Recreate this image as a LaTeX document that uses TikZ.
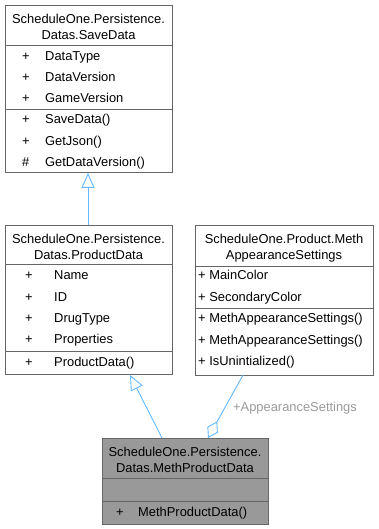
\documentclass[tikz,border=0pt]{standalone}
\usepackage{fontspec}
\setmainfont{Liberation Sans}
\usetikzlibrary{arrows.meta}
\definecolor{edgeblue}{HTML}{63B8FF}
\definecolor{boxline}{HTML}{666666}
\definecolor{labelgray}{HTML}{9A9A9A}
\definecolor{hilite}{HTML}{999999}
\begin{document}
\begin{tikzpicture}[x=1pt,y=-1pt,
  every node/.style={font=\fontsize{12.9}{16}\selectfont, inner sep=0pt, text height=1.1em, text depth=0.2em},
  classbox/.style={draw=boxline, line width=0.9pt, fill=white, anchor=north west, minimum width=#1, text height=, text depth=},
  member/.style={anchor=west},
  sep/.style={draw=boxline, line width=0.9pt},
  link/.style={draw=edgeblue, line width=0.9pt},
  inherit/.style={link, -{Triangle[open, length=15pt, width=13pt, fill=white]}},
  aggr/.style={link, -{Diamond[open, length=19pt, width=12pt, fill=white]}}
]
\useasboundingbox (0,0) rectangle (379,529);

% ---- SaveData ----
\node[classbox=167pt, minimum height=167pt] (sd) at (5,5) {};
\node (sdt1) at (88.5,19) {ScheduleOne.Persistence.};
\node (sdt2) at (88.5,35) {Datas.SaveData};
\draw[sep] (5,45) -- (172,45);
\draw[sep] (5,109) -- (172,109);
\foreach \y/\v/\t [count=\i] in {56/+/DataType, 77/+/DataVersion, 98/+/GameVersion,
                                 119/+/SaveData(), 141/+/GetJson(), 162/\#/GetDataVersion()} {
  \node[member] (sdv\i) at (22,\y) {\v};
  \node[member] (sdm\i) at (45,\y) {\t};
}

% ---- ProductData ----
\node[classbox=167pt, minimum height=149pt] (pd) at (5,225) {};
\node (pdt1) at (88.5,239) {ScheduleOne.Persistence.};
\node (pdt2) at (88.5,255) {Datas.ProductData};
\draw[sep] (5,264) -- (172,264);
\draw[sep] (5,351) -- (172,351);
\foreach \y/\t [count=\i] in {275/Name, 297/ID, 318/DrugType, 339/Properties, 362/ProductData()} {
  \node[member] (pdv\i) at (25,\y) {+};
  \node[member] (pdm\i) at (54,\y) {\t};
}

% ---- MethAppearanceSettings ----
\node[classbox=178pt, minimum height=150pt] (ma) at (195,225) {};
\node (mat1) at (284,239) {ScheduleOne.Product.Meth};
\node (mat2) at (284,255) {AppearanceSettings};
\draw[sep] (195,266) -- (373,266);
\draw[sep] (195,308) -- (373,308);
\foreach \y/\t [count=\i] in {275/MainColor, 297/SecondaryColor, 318/MethAppearanceSettings(),
                              340/MethAppearanceSettings(), 361/IsUnintialized()} {
  \node[member] (mam\i) at (198,\y) {+ \t};
}

% ---- MethProductData (highlighted) ----
\node[classbox=166pt, minimum height=86pt, fill=hilite] (mp) at (102,438) {};
\node (mpt1) at (185,452) {ScheduleOne.Persistence.};
\node (mpt2) at (185,468) {Datas.MethProductData};
\draw[sep] (102,478) -- (268,478);
\draw[sep] (102,501) -- (268,501);
\node[member] (mpv1) at (116,512) {+};
\node[member] (mpm1) at (138,512) {MethProductData()};

% ---- relations ----
\draw[inherit] (pd.north -| 88,0) -- (sd.south -| 88,0);
\coordinate (mpa) at (162,438);
\coordinate (pdb) at (130,375);
\draw[inherit] (mpa) -- (pdb);
\coordinate (mab) at (243,375);
\coordinate (mpb) at (208,438);
\draw[aggr] (mab) -- (mpb);
\node[text=labelgray] (aslabel) at (295,407) {+AppearanceSettings};
\end{tikzpicture}
\end{document}
